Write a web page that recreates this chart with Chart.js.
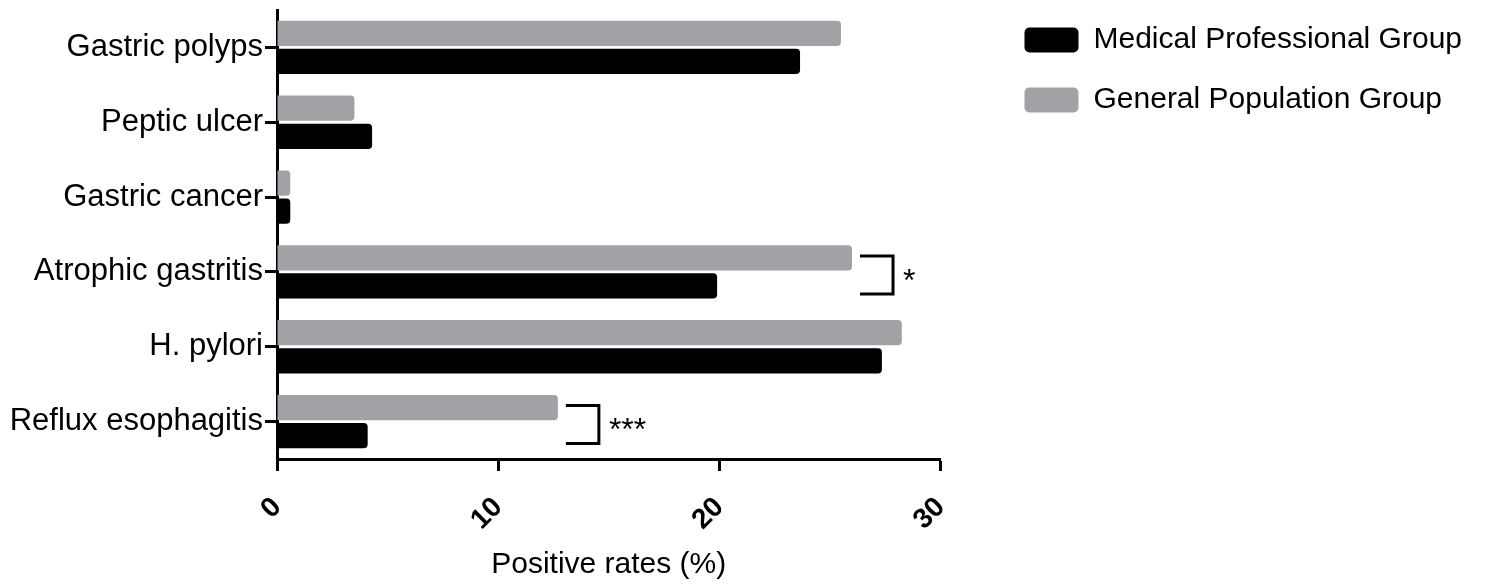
<!DOCTYPE html>
<html>
<head>
<meta charset="utf-8">
<script src="https://cdn.jsdelivr.net/npm/chart.js@4"></script>
<style>
  html, body { margin: 0; padding: 0; background: #fff; }
  #wrap { width: 1488px; height: 585px; position: relative; }
</style>
</head>
<body>
<div id="wrap"><canvas id="c"></canvas></div>
<script>
// ─── Data ──────────────────────────────────────────────────────────────
const categories = ['Gastric polyps', 'Peptic ulcer', 'Gastric cancer', 'Atrophic gastritis', 'H. pylori', 'Reflux esophagitis'];
const medicalGroup = [23.65, 4.3, 0.6, 19.9, 27.35, 4.1];
const generalGroup = [25.5, 3.5, 0.6, 26.0, 28.25, 12.7];
const seriesNames = ['Medical Professional Group', 'General Population Group'];
const xTicks = [0, 10, 20, 30];
const sigCategories = ['Atrophic gastritis', 'Reflux esophagitis'];
const sigMarks = ['*', '***'];

const FONT = '"Liberation Sans", Arial, sans-serif';
const GRAY = '#a2a1a6';
const LEGEND_GAP = 54;   // extra room between plot and legend
const LEGEND_LIFT = 15;  // legend sits higher than the plot top

// brackets + stars for significant pairs
const sigBrackets = {
  id: 'sigBrackets',
  afterDatasetsDraw(chart) {
    const ctx = chart.ctx;
    const gMeta = chart.getDatasetMeta(0), mMeta = chart.getDatasetMeta(1);
    ctx.save();
    ctx.strokeStyle = '#000';
    ctx.lineWidth = 3;
    ctx.fillStyle = '#000';
    ctx.font = '32px ' + FONT;
    ctx.textBaseline = 'middle';
    sigCategories.forEach((cat, k) => {
      const i = categories.indexOf(cat);
      const g = gMeta.data[i], m = mMeta.data[i];
      const x0 = Math.max(g.x, m.x) + 8, x1 = x0 + 33;
      const y0 = g.y - 2, y1 = m.y + 8;
      ctx.beginPath();
      ctx.moveTo(x0, y0); ctx.lineTo(x1, y0); ctx.lineTo(x1, y1); ctx.lineTo(x0, y1);
      ctx.stroke();
      ctx.fillText(sigMarks[k], x1 + 10, (y0 + y1) / 2 + 7);
    });
    ctx.restore();
  }
};

// widen the legend box so the plot ends earlier, then move the legend back
const legendGap = {
  id: 'legendGap',
  beforeLayout(chart) {
    const lg = chart.legend;
    if (lg && !lg._gapPatched) {
      const fit = lg.fit.bind(lg);
      lg.fit = function () { fit(); this.width += LEGEND_GAP; };
      lg._gapPatched = true;
    }
  },
  afterLayout(chart) {
    chart.legend.left += LEGEND_GAP;
    chart.legend.top -= LEGEND_LIFT;
  }
};

new Chart(document.getElementById('c').getContext('2d'), {
  type: 'bar',
  data: {
    labels: categories,
    datasets: [
      { label: seriesNames[1], data: generalGroup, backgroundColor: GRAY, borderRadius: 4, borderSkipped: 'start' },
      { label: seriesNames[0], data: medicalGroup, backgroundColor: '#000', borderRadius: 4, borderSkipped: 'start' }
    ]
  },
  options: {
    indexAxis: 'y',
    responsive: true,
    maintainAspectRatio: false,
    animation: false,
    categoryPercentage: 0.75,
    barPercentage: 0.9,
    layout: { padding: { top: 10, right: 16, bottom: 0, left: 0 } },
    plugins: {
      tooltip: { enabled: false },
      legend: {
        position: 'right',
        align: 'start',
        reverse: true,
        maxWidth: 700,
        labels: {
          boxWidth: 54, boxHeight: 25, padding: 30, color: '#000',
          font: { size: 30, family: FONT },
          useBorderRadius: true, borderRadius: 5
        }
      }
    },
    scales: {
      x: {
        min: 0, max: 30,
        afterBuildTicks(s) { s.ticks = xTicks.map(v => ({ value: v })); },
        grid: { drawOnChartArea: false, tickLength: 12, tickWidth: 3, tickColor: '#000' },
        border: { color: '#000', width: 3 },
        ticks: { color: '#000', font: { size: 28, weight: 'bold', family: FONT }, minRotation: 45, maxRotation: 45, padding: 20 },
        title: { display: true, text: 'Positive rates (%)', color: '#000', font: { size: 30, family: FONT }, padding: { top: 10, bottom: 2 } },
        afterFit(s) { s.height = 126; }
      },
      y: {
        grid: { drawOnChartArea: false, offset: false, tickLength: 12, tickWidth: 3, tickColor: '#000' },
        border: { color: '#000', width: 3 },
        ticks: { color: '#000', font: { size: 31, family: FONT }, padding: 2 },
        afterFit(s) { s.width = 277; s.paddingTop = 0; s.paddingBottom = 0; }
      }
    }
  },
  plugins: [sigBrackets, legendGap]
});
</script>
</body>
</html>
